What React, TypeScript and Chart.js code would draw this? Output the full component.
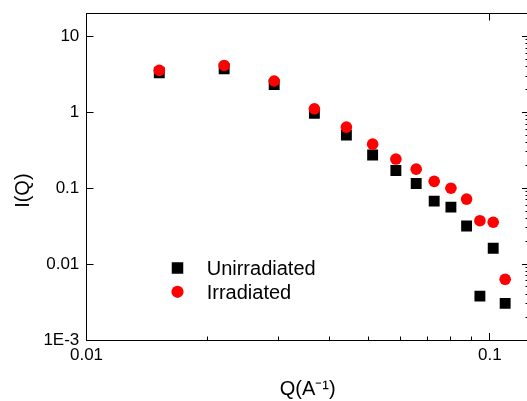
import { useEffect, useRef } from 'react';
import { Chart, registerables } from 'chart.js';

Chart.register(...registerables);

// ---- data ----
const qValues = [0.01515, 0.02194, 0.02919, 0.03672, 0.04408, 0.0512, 0.05847, 0.06566, 0.07276, 0.08005, 0.08754, 0.09445, 0.1019, 0.1091];
const unirradiated = [3.32, 3.75, 2.31, 0.97, 0.5, 0.273, 0.171, 0.115, 0.0676, 0.0562, 0.0318, 0.00379, 0.0162, 0.00304];
const irradiated = [3.56, 4.14, 2.58, 1.11, 0.638, 0.38, 0.242, 0.178, 0.123, 0.1, 0.0718, 0.0373, 0.0356, 0.0063];
const seriesNames = ['Unirradiated', 'Irradiated'];

const xRange = [0.01, 0.125];
const yRange = [0.001, 20];
const xTickValues = [0.01, 0.1];
const xTickLabels = ['0.01', '0.1'];
const yTickValues = [0.001, 0.01, 0.1, 1, 10];
const yTickLabels = ['1E-3', '0.01', '0.1', '1', '10'];
const xTitle = 'Q(A\u207B\u00B9)';
const yTitle = 'I(Q)';

// ---- styles ----
const FONT = "'Liberation Sans', Arial, Helvetica, sans-serif";
const MAJOR_LEN = 7;
const MINOR_LEN = 4.5;
const CANVAS_W = 545;
const CANVAS_H = 401;

function logTicks(min: number, max: number) {
  const out: { value: number; major: boolean }[] = [];
  const e0 = Math.floor(Math.log10(min));
  const e1 = Math.ceil(Math.log10(max));
  for (let e = e0; e <= e1; e++) {
    for (let m = 1; m <= 9; m++) {
      const v = parseFloat((m * Math.pow(10, e)).toPrecision(6));
      if (v >= min * 0.9999 && v <= max * 1.0001) out.push({ value: v, major: m === 1 });
    }
  }
  return out;
}

function labelFor(values: number[], labels: string[]) {
  return (value: any) => {
    const v = Number(value);
    const i = values.findIndex((t) => Math.abs(t - v) / t < 1e-6);
    return i >= 0 ? labels[i] : '';
  };
}

// startsAtInner: tick line is drawn starting from its inner end (top/left axes)
function gridOpts(startsAtInner: boolean) {
  return {
    display: true,
    drawOnChartArea: false,
    drawTicks: true,
    tickLength: -MAJOR_LEN,
    tickColor: '#000',
    tickWidth: 1,
    tickBorderDash: (c: any) =>
      c.tick && c.tick.major ? [] : startsAtInner ? [MINOR_LEN, MAJOR_LEN] : [MINOR_LEN, 40],
    tickBorderDashOffset: (c: any) =>
      c.tick && c.tick.major ? 0 : startsAtInner ? MINOR_LEN + 0.5 : 0,
  };
}

function fixSize(prop: 'width' | 'height', size: number) {
  return (s: any) => {
    s[prop] = size;
    s.paddingTop = 0;
    s.paddingBottom = 0;
    s.paddingLeft = 0;
    s.paddingRight = 0;
  };
}

const border = { display: true, color: '#000', width: 1 };

const insideLegend = {
  id: 'insideLegend',
  afterDatasetsDraw(chart: any) {
    const ctx = chart.ctx as CanvasRenderingContext2D;
    const markerX = 177.5;
    const textX = 206.7;
    const rows = [268, 291.8];
    ctx.save();
    chart.data.datasets.forEach((ds: any, i: number) => {
      const y = rows[i];
      ctx.fillStyle = ds.backgroundColor;
      if (ds.pointStyle === 'rect') {
        const s = 11.5;
        ctx.fillRect(markerX - s / 2, y - s / 2, s, s);
      } else {
        ctx.beginPath();
        ctx.arc(markerX, y, 6.1, 0, Math.PI * 2);
        ctx.fill();
      }
      ctx.fillStyle = '#000';
      ctx.font = `20px ${FONT}`;
      ctx.textAlign = 'left';
      ctx.textBaseline = 'alphabetic';
      ctx.fillText(ds.label, textX, y + 7.2);
    });
    ctx.restore();
  },
};

export default function App() {
  const ref = useRef<HTMLCanvasElement>(null);

  useEffect(() => {
    const canvas = ref.current;
    if (!canvas) return;
    const chart = new Chart(canvas, {
      type: 'scatter',
      data: {
        datasets: [
          {
            label: seriesNames[0],
            data: qValues.map((q, i) => ({ x: q, y: unirradiated[i] })),
            pointStyle: 'rect',
            pointRadius: 7.7,
            backgroundColor: '#000000',
            borderColor: '#000000',
            borderWidth: 0,
            order: 1,
          },
          {
            label: seriesNames[1],
            data: qValues.map((q, i) => ({ x: q, y: irradiated[i] })),
            pointStyle: 'circle',
            pointRadius: 5.8,
            backgroundColor: '#ff0000',
            borderColor: '#ff0000',
            borderWidth: 0,
            order: 0,
          },
        ],
      } as any,
      options: {
        animation: false,
        responsive: false,
        devicePixelRatio: 1,
        events: [],
        layout: { padding: 0 },
        plugins: { legend: { display: false }, tooltip: { enabled: false } },
        scales: {
          x: {
            type: 'logarithmic',
            position: 'bottom',
            min: xRange[0],
            max: xRange[1],
            border,
            grid: gridOpts(false),
            afterBuildTicks: (s: any) => { s.ticks = logTicks(xRange[0], xRange[1]); },
            afterFit: fixSize('height', 61),
            ticks: {
              autoSkip: false,
              maxRotation: 0,
              minRotation: 0,
              padding: 12,
              color: '#000',
              font: { family: FONT, size: 17 },
              callback: labelFor(xTickValues, xTickLabels),
            },
            title: {
              display: true,
              text: xTitle,
              color: '#000',
              font: { family: FONT, size: 20 },
              padding: { top: 0, bottom: 0 },
            },
          },
          x2: {
            type: 'logarithmic',
            position: 'top',
            min: xRange[0],
            max: xRange[1],
            border,
            grid: gridOpts(true),
            afterBuildTicks: (s: any) => { s.ticks = logTicks(xRange[0], xRange[1]); },
            afterFit: fixSize('height', 13.5),
            ticks: { display: false, autoSkip: false },
          },
          y: {
            type: 'logarithmic',
            position: 'left',
            min: yRange[0],
            max: yRange[1],
            border,
            grid: gridOpts(true),
            afterBuildTicks: (s: any) => { s.ticks = logTicks(yRange[0], yRange[1]); },
            afterFit: fixSize('width', 86.5),
            ticks: {
              autoSkip: false,
              padding: 14.2,
              color: '#000',
              font: { family: FONT, size: 17 },
              callback: labelFor(yTickValues, yTickLabels),
            },
            title: {
              display: true,
              text: yTitle + '     ',
              color: '#000',
              font: { family: FONT, size: 20 },
              padding: { top: 11.5, bottom: 0 },
            },
          },
          y2: {
            type: 'logarithmic',
            position: 'right',
            min: yRange[0],
            max: yRange[1],
            border,
            grid: gridOpts(false),
            afterBuildTicks: (s: any) => { s.ticks = logTicks(yRange[0], yRange[1]); },
            afterFit: fixSize('width', CANVAS_W - 529),
            ticks: { display: false, autoSkip: false },
          },
        },
      } as any,
      plugins: [insideLegend],
    });
    return () => chart.destroy();
  }, []);

  return (
    <div
      style={{
        position: 'fixed',
        left: 0,
        top: 0,
        width: 527,
        height: 401,
        overflow: 'hidden',
        background: '#fff',
      }}
    >
      <canvas
        ref={ref}
        width={CANVAS_W}
        height={CANVAS_H}
        style={{ display: 'block', width: CANVAS_W, height: CANVAS_H }}
      />
    </div>
  );
}
